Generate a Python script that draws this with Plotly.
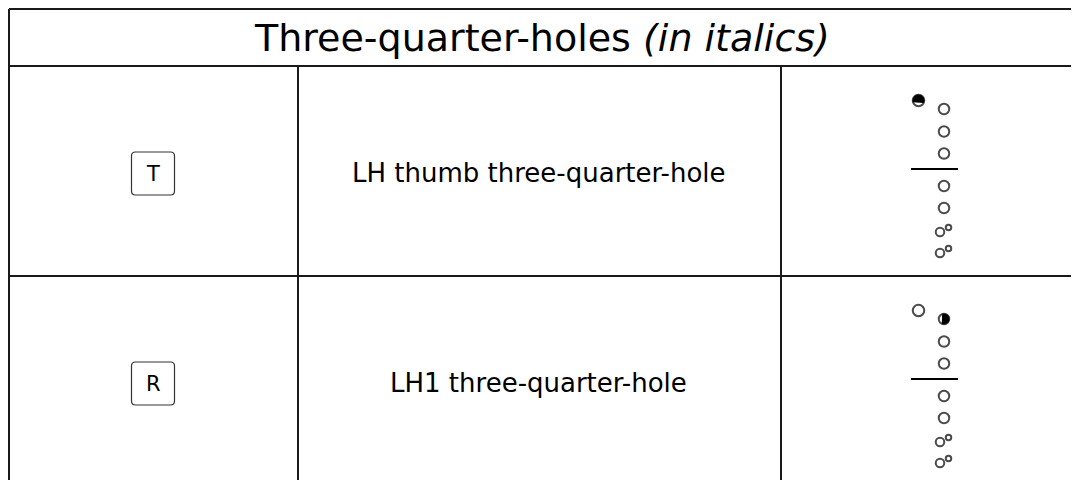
import numpy as np
import plotly.graph_objects as go

# ---- data ----
title_main = "Three-quarter-holes"
title_note = "(in italics)"
keys = ["T", "R"]
descriptions = ["LH thumb three-quarter-hole", "LH1 three-quarter-hole"]
# hole states: thumb, LH1, LH2, LH3, RH1, RH2, RH3 (double), RH4 (double)
# "o" = open, "q" = three-quarter covered
fingerings = [
    ["q", "o", "o", "o", "o", "o", "o", "o"],
    ["o", "q", "o", "o", "o", "o", "o", "o"],
]

# ---- layout constants (pixels, screen coords) ----
OFF = 8  # page body margin
W, H = 1079, 480
LEFT, TOP, TITLE_BOT = 9, 9, 66
COL1, COL2, RIGHT = 298, 781, 1100
ROW_H = 210
FONT = "DejaVu Sans"
INK = "#000000"

# diagram geometry, offsets from the row top
HOLE_X = 944
THUMB_X = 918.5
THUMB_DY = 34.5
HOLE_DY = [43, 65.5, 87.5, 120, 142, 166, 187]
BAR_DY = 103
BAR_X = (911, 958)


def quarter_poly(cx, cy, r, side):
    # filled part of a three-quarter covered hole, open sliver on the other side
    t = np.linspace(0, 2 * np.pi, 80)
    x = cx + r * np.cos(t)
    y = cy + r * np.sin(t)
    d = 0.4 * r
    if side == "top":
        y = np.minimum(y, cy + d)
    else:
        x = np.maximum(x, cx - d)
    return x, y


def rounded_box(x0, y0, x1, y1, r):
    return (f"M {x0+r},{y0} L {x1-r},{y0} Q {x1},{y0} {x1},{y0+r} "
            f"L {x1},{y1-r} Q {x1},{y1} {x1-r},{y1} L {x0+r},{y1} "
            f"Q {x0},{y1} {x0},{y1-r} L {x0},{y0+r} Q {x0},{y0} {x0+r},{y0} Z")


fig = go.Figure()
shapes = []
annotations = []

line = dict(color="#1a1a1a", width=2)
n = len(keys)
bottom = TITLE_BOT + ROW_H * n
# frame + grid (right and bottom edges fall outside the view)
shapes.append(dict(type="line", x0=LEFT, y0=TOP, x1=RIGHT, y1=TOP, line=line))
shapes.append(dict(type="line", x0=LEFT, y0=TOP, x1=LEFT, y1=bottom, line=line))
shapes.append(dict(type="line", x0=LEFT, y0=TITLE_BOT, x1=RIGHT, y1=TITLE_BOT, line=line))
for i in range(1, n):
    y = TITLE_BOT + ROW_H * i
    shapes.append(dict(type="line", x0=LEFT, y0=y, x1=RIGHT, y1=y, line=line))
for cx in (COL1, COL2):
    shapes.append(dict(type="line", x0=cx, y0=TITLE_BOT, x1=cx, y1=bottom, line=line))

annotations.append(dict(
    x=542, y=37.5, text=f"{title_main} <i>{title_note}</i>",
    showarrow=False, font=dict(family=FONT, size=38, color=INK),
    xanchor="center", yanchor="middle"))

for i, (k, desc, holes) in enumerate(zip(keys, descriptions, fingerings)):
    top = TITLE_BOT + ROW_H * i
    mid = top + ROW_H / 2
    kx = (LEFT + COL1) / 2 - 0.5
    ky = mid + 2.5
    shapes.append(dict(type="path", path=rounded_box(kx - 21.5, ky - 21.5, kx + 21.5, ky + 21.5, 4),
                       line=dict(color="#333333", width=1.2)))
    annotations.append(dict(x=kx, y=ky, text=k, showarrow=False,
                            font=dict(family=FONT, size=21, color=INK)))
    annotations.append(dict(x=(COL1 + COL2) / 2 - 1, y=mid + 1.5, text=desc, showarrow=False,
                            font=dict(family=FONT, size=26, color=INK)))

    # diagram bar
    shapes.append(dict(type="line", x0=BAR_X[0], x1=BAR_X[1], y0=top + BAR_DY, y1=top + BAR_DY,
                       line=dict(color=INK, width=2)))

    # thumb + single holes as markers
    xs = [THUMB_X] + [HOLE_X] * 5
    ys = [top + THUMB_DY] + [top + d for d in HOLE_DY[:5]]
    sizes = [11.5] + [10.5] * 5
    # double holes: big and small
    for d in HOLE_DY[5:]:
        xs += [HOLE_X - 4, HOLE_X + 4.5]
        ys += [top + d, top + d - 4.5]
        sizes += [8.5, 5.5]
    fig.add_trace(go.Scatter(
        x=xs, y=ys, mode="markers", hoverinfo="skip", showlegend=False,
        marker=dict(symbol="circle", size=sizes, color="white",
                    line=dict(color=INK, width=2))))

    for j, s in enumerate(holes):
        if s != "q":
            continue
        if j == 0:
            px, py = quarter_poly(THUMB_X, top + THUMB_DY, 6, "top")
        else:
            px, py = quarter_poly(HOLE_X, top + HOLE_DY[j - 1], 5.5, "right")
        fig.add_trace(go.Scatter(
            x=px, y=py, mode="lines", fill="toself", fillcolor=INK,
            line=dict(width=0), hoverinfo="skip", showlegend=False))

fig.update_layout(
    width=W, height=H, margin=dict(l=0, r=0, t=0, b=0),
    paper_bgcolor="white", plot_bgcolor="white",
    xaxis=dict(range=[OFF, W + OFF], visible=False, fixedrange=True),
    yaxis=dict(range=[H + OFF, OFF], visible=False, fixedrange=True),
    shapes=shapes, annotations=annotations,
)

fig.write_html("out.html")
